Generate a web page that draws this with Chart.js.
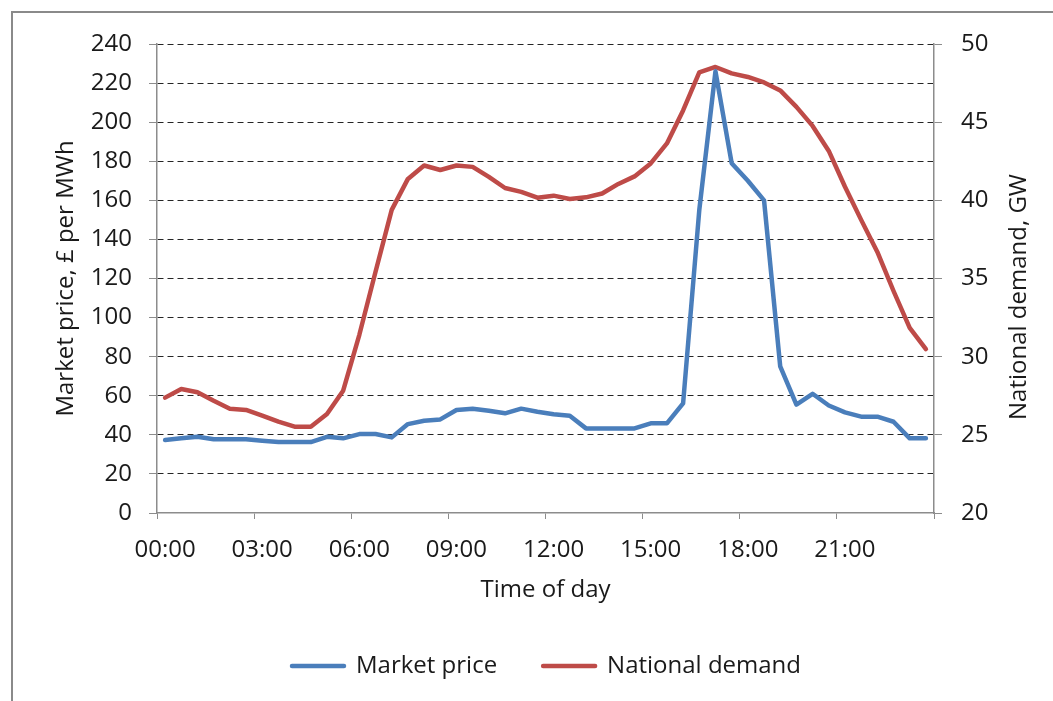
<!DOCTYPE html>
<html>
<head>
<meta charset="utf-8">
<script src="https://cdn.jsdelivr.net/npm/chart.js@4/dist/chart.umd.min.js"></script>
<style>
  html, body { margin: 0; padding: 0; background: #ffffff; }
  #wrap { position: relative; width: 1053px; height: 701px; }
</style>
</head>
<body>
<div id="wrap"><canvas id="chart" width="1053" height="701"></canvas></div>
<script>
// Half-hourly settlement periods across one day
const timeLabels = [
  '00:00','00:30','01:00','01:30','02:00','02:30','03:00','03:30',
  '04:00','04:30','05:00','05:30','06:00','06:30','07:00','07:30',
  '08:00','08:30','09:00','09:30','10:00','10:30','11:00','11:30',
  '12:00','12:30','13:00','13:30','14:00','14:30','15:00','15:30',
  '16:00','16:30','17:00','17:30','18:00','18:30','19:00','19:30',
  '20:00','20:30','21:00','21:30','22:00','22:30','23:00','23:30'
];

// Market price, £ per MWh (left axis)
const marketPrice = [
  37.4, 38.2, 39.0, 37.7, 37.7, 37.7, 37.0, 36.3,
  36.3, 36.3, 39.0, 38.2, 40.4, 40.4, 38.7, 45.5,
  47.2, 47.9, 52.7, 53.4, 52.3, 51.0, 53.4, 51.8,
  50.5, 49.8, 43.3, 43.3, 43.3, 43.3, 45.9, 45.9,
  56.1, 155, 226, 179, 170, 160, 75, 55.5,
  61, 55, 51.5, 49.3, 49.3, 46.7, 38.2, 38.2
];

// National demand, GW (right axis)
const nationalDemand = [
  27.38, 27.93, 27.72, 27.18, 26.67, 26.59, 26.23, 25.84,
  25.52, 25.52, 26.33, 27.82, 31.4, 35.43, 39.39, 41.37,
  42.23, 41.94, 42.23, 42.14, 41.5, 40.79, 40.54, 40.17,
  40.30, 40.09, 40.19, 40.44, 41.05, 41.53, 42.36, 43.64,
  45.75, 48.18, 48.53, 48.12, 47.89, 47.54, 47.03, 45.98,
  44.76, 43.16, 40.87, 38.75, 36.7, 34.2, 31.84, 30.49
];

// Axis ranges
const priceAxis = { min: 0, max: 240, step: 20 };
const demandAxis = { min: 20, max: 50, step: 5 };
const labelEvery = 6; // one label every three hours

const FONT = '"Open Sans", "DejaVu Sans", sans-serif';
const TEXT = '#1a1a1a';
const AXIS = '#8c8c8c';
const BLUE = '#4a7ebb';
const RED = '#be4b48';

// Outer frame and the secondary axis title
const framePlugin = {
  id: 'frame',
  afterDraw(chart) {
    const ctx = chart.ctx;
    ctx.save();
    ctx.strokeStyle = '#8a8a8a';
    ctx.lineWidth = 2;
    ctx.strokeRect(12, 12, 1200, 900);
    ctx.fillStyle = TEXT;
    ctx.font = '24px ' + FONT;
    ctx.textAlign = 'center';
    ctx.textBaseline = 'middle';
    ctx.translate(1019, 297);
    ctx.rotate(-Math.PI / 2);
    ctx.fillText('National demand, GW', 0, 0);
    ctx.restore();
  }
};

new Chart(document.getElementById('chart'), {
  type: 'line',
  data: {
    labels: timeLabels,
    datasets: [
      {
        label: 'Market price',
        data: marketPrice,
        yAxisID: 'y',
        borderColor: BLUE,
        backgroundColor: BLUE,
        borderWidth: 4.5,
        pointRadius: 0,
        tension: 0,
        borderJoinStyle: 'round',
        borderCapStyle: 'round'
      },
      {
        label: 'National demand',
        data: nationalDemand,
        yAxisID: 'y1',
        borderColor: RED,
        backgroundColor: RED,
        borderWidth: 4.5,
        pointRadius: 0,
        tension: 0,
        borderJoinStyle: 'round',
        borderCapStyle: 'round'
      }
    ]
  },
  options: {
    responsive: false,
    animation: false,
    devicePixelRatio: 1,
    layout: { padding: { top: 44, left: 40, right: 0, bottom: 13 } },
    plugins: {
      tooltip: { enabled: false },
      legend: {
        position: 'bottom',
        labels: {
          font: { family: FONT, size: 24 },
          color: TEXT,
          usePointStyle: true,
          pointStyleWidth: 52,
          padding: 46,
          generateLabels(chart) {
            return chart.data.datasets.map((ds, i) => ({
              text: ds.label,
              fillStyle: ds.borderColor,
              strokeStyle: ds.borderColor,
              lineWidth: 4.5,
              lineCap: 'round',
              pointStyle: 'line',
              fontColor: TEXT,
              datasetIndex: i,
              hidden: false
            }));
          }
        }
      }
    },
    scales: {
      x: {
        type: 'category',
        offset: true,
        afterFit(scale) { scale.height = 95; },
        grid: {
          offset: true,
          drawOnChartArea: false,
          drawTicks: true,
          tickLength: 6,
          tickColor: (c) => (c.type !== 'tick' || c.index % labelEvery === 0) ? AXIS : 'rgba(0,0,0,0)'
        },
        border: { color: AXIS, width: 1.5 },
        ticks: {
          autoSkip: false,
          maxRotation: 0,
          minRotation: 0,
          padding: 17,
          color: TEXT,
          font: { family: FONT, size: 24 },
          callback(value, index) {
            return index % labelEvery === 0 ? this.getLabelForValue(value) : '';
          }
        },
        title: {
          display: true,
          text: 'Time of day',
          color: TEXT,
          font: { family: FONT, size: 24 },
          padding: { top: 0, bottom: 3 }
        }
      },
      y: {
        position: 'left',
        min: priceAxis.min,
        max: priceAxis.max,
        afterFit(scale) { scale.width = 117; },
        grid: {
          color: (c) => c.tick && c.tick.value === priceAxis.min ? 'rgba(0,0,0,0)' : 'rgba(0,0,0,0.85)',
          lineWidth: 1,
          drawTicks: true,
          tickLength: 8,
          tickColor: AXIS,
          tickBorderDash: []
        },
        border: { color: AXIS, width: 1.5, dash: [6, 4] },
        ticks: {
          stepSize: priceAxis.step,
          padding: 17,
          color: TEXT,
          font: { family: FONT, size: 24 }
        },
        title: {
          display: true,
          text: 'Market price, £ per MWh',
          color: TEXT,
          font: { family: FONT, size: 24 },
          padding: { top: 12, bottom: 0 }
        }
      },
      y1: {
        position: 'right',
        min: demandAxis.min,
        max: demandAxis.max,
        afterFit(scale) { scale.width = 119; },
        grid: {
          drawOnChartArea: false,
          drawTicks: true,
          tickLength: 8,
          tickColor: AXIS
        },
        border: { color: AXIS, width: 1.5 },
        ticks: {
          stepSize: demandAxis.step,
          padding: 19,
          color: TEXT,
          font: { family: FONT, size: 24 }
        }
      }
    }
  },
  plugins: [framePlugin]
});
</script>
</body>
</html>
